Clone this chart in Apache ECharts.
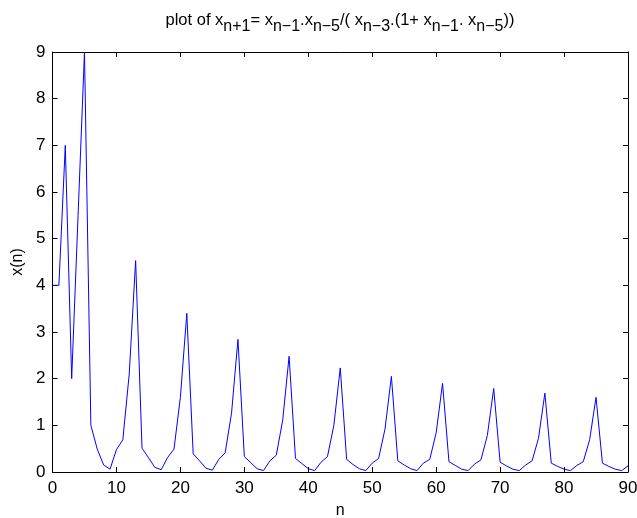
<!DOCTYPE html>
<html>
<head>
<meta charset="utf-8">
<script src="https://cdn.jsdelivr.net/npm/echarts@6/dist/echarts.min.js"></script>
<style>
  html, body { margin: 0; padding: 0; background: #fff; }
  #chart { width: 637px; height: 518px; }
</style>
</head>
<body>
<div id="chart"></div>
<script>
// Index n of each sample
const nValues = [
  0, 1, 2, 3, 4, 5, 6, 7, 8, 9,
  10, 11, 12, 13, 14, 15, 16, 17, 18, 19,
  20, 21, 22, 23, 24, 25, 26, 27, 28, 29,
  30, 31, 32, 33, 34, 35, 36, 37, 38, 39,
  40, 41, 42, 43, 44, 45, 46, 47, 48, 49,
  50, 51, 52, 53, 54, 55, 56, 57, 58, 59,
  60, 61, 62, 63, 64, 65, 66, 67, 68, 69,
  70, 71, 72, 73, 74, 75, 76, 77, 78, 79,
  80, 81, 82, 83, 84, 85, 86, 87, 88, 89,
  90
];

// Sequence values x(n)
const xValues = [
  4, 4, 7, 2, 5.5, 9, 1.0, 0.49, 0.15, 0.06,
  0.48, 0.69, 2.1, 4.53, 0.51, 0.31, 0.10, 0.05, 0.31, 0.49,
  1.6, 3.4, 0.39, 0.24, 0.08, 0.04, 0.27, 0.41, 1.26, 2.84,
  0.33, 0.2, 0.07, 0.03, 0.24, 0.36, 1.11, 2.48, 0.29, 0.18,
  0.07, 0.03, 0.21, 0.33, 1.0, 2.23, 0.27, 0.16, 0.07, 0.03,
  0.19, 0.29, 0.92, 2.05, 0.24, 0.15, 0.07, 0.03, 0.19, 0.27,
  0.84, 1.9, 0.22, 0.14, 0.06, 0.03, 0.17, 0.26, 0.78, 1.79,
  0.21, 0.13, 0.06, 0.03, 0.15, 0.24, 0.72, 1.69, 0.19, 0.12,
  0.06, 0.03, 0.14, 0.22, 0.69, 1.6, 0.19, 0.12, 0.06, 0.03,
  0.13
];

// Axis ranges and tick steps
const xRange = [0, 90];
const xStep = 10;
const yRange = [0, 9];
const yStep = 1;

const FONT = '"Liberation Sans", Arial, Helvetica, sans-serif';

const points = nValues.map((n, i) => [n, xValues[i]]);

const baseAxis = {
  axisLine: { show: true, onZero: false, lineStyle: { color: '#000', width: 1 } },
  axisTick: { show: true, inside: true, length: 5, lineStyle: { color: '#000', width: 1 } },
  splitLine: { show: false }
};

const chart = echarts.init(document.getElementById('chart'), null, { renderer: 'canvas' });

chart.setOption({
  backgroundColor: '#fff',
  animation: false,
  title: {
    left: 335,
    textAlign: 'center',
    top: 12,
    text: '{m|plot of x}{s|n+1}{m|= x}{s|n−1}{m|.x}{s|n−5}{m|/( x}{s|n−3}{m|.(1+ x}{s|n−1}{m|. x}{s|n−5}{m|))}',
    textStyle: {
      fontWeight: 'normal',
      rich: {
        m: { fontFamily: FONT, fontSize: 16.5, fontWeight: 'normal', color: '#000', lineHeight: 18, padding: [0, 0, 6, 0], verticalAlign: 'bottom' },
        s: { fontFamily: FONT, fontSize: 16, fontWeight: 'normal', color: '#000', lineHeight: 16, verticalAlign: 'bottom' }
      }
    }
  },
  grid: { left: 52.5, right: 9, top: 52, bottom: 46, containLabel: false, outerBoundsMode: 'none' },
  xAxis: [
    Object.assign({}, baseAxis, {
      type: 'value', min: xRange[0], max: xRange[1], interval: xStep, position: 'bottom',
      name: 'n', nameLocation: 'middle', nameGap: 31,
      nameTextStyle: { fontFamily: FONT, fontSize: 16, color: '#000' },
      axisLabel: { fontFamily: FONT, fontSize: 17, color: '#000', margin: 8 }
    }),
    Object.assign({}, baseAxis, {
      type: 'value', min: xRange[0], max: xRange[1], interval: xStep, position: 'top',
      axisLabel: { show: false }
    })
  ],
  yAxis: [
    Object.assign({}, baseAxis, {
      type: 'value', min: yRange[0], max: yRange[1], interval: yStep, position: 'left',
      name: 'x(n)', nameLocation: 'middle', nameGap: 27, nameRotate: 90,
      nameTextStyle: { fontFamily: FONT, fontSize: 16, color: '#000' },
      axisLabel: { fontFamily: FONT, fontSize: 17, color: '#000', margin: 7 }
    }),
    Object.assign({}, baseAxis, {
      type: 'value', min: yRange[0], max: yRange[1], interval: yStep, position: 'right',
      axisLabel: { show: false }
    })
  ],
  series: [{
    type: 'line',
    data: points,
    xAxisIndex: 0,
    yAxisIndex: 0,
    showSymbol: false,
    symbol: 'none',
    lineStyle: { color: '#0000ff', width: 1 },
    itemStyle: { color: '#0000ff' }
  }]
});
</script>
</body>
</html>
